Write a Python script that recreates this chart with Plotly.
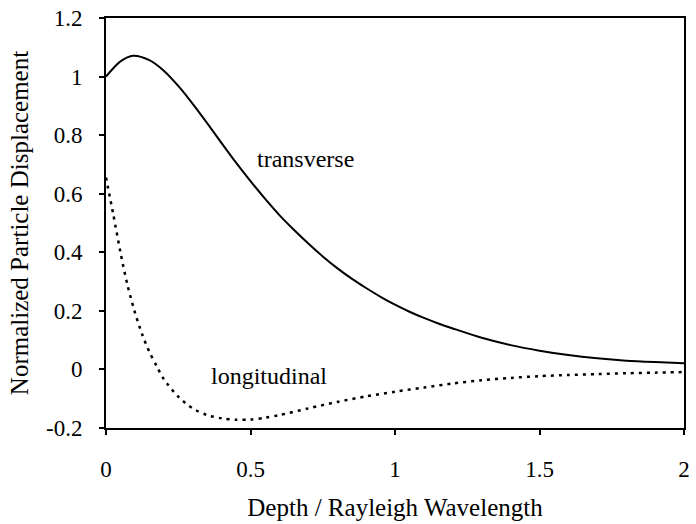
import plotly.graph_objects as go

# Depth / Rayleigh wavelength
x_trans = [0.0, 0.05, 0.094, 0.15, 0.2, 0.25, 0.3, 0.35, 0.4, 0.45, 0.5, 0.55, 0.6, 0.65, 0.7,
           0.75, 0.8, 0.85, 0.9, 0.95, 1.0, 1.05, 1.1, 1.15, 1.2, 1.3, 1.4, 1.5, 1.6, 1.7,
           1.8, 1.9, 2.0]
y_trans = [1.0, 1.052, 1.071, 1.056, 1.02, 0.968, 0.907, 0.841, 0.773, 0.706, 0.643, 0.583, 0.527,
           0.477, 0.430, 0.386, 0.346, 0.310, 0.278, 0.248, 0.221, 0.197, 0.176, 0.157, 0.140,
           0.108, 0.083, 0.064, 0.049, 0.038, 0.030, 0.025, 0.021]

x_long = [0.0, 0.025, 0.05, 0.075, 0.1, 0.125, 0.15, 0.175, 0.2, 0.25, 0.3, 0.35, 0.4, 0.45,
          0.5, 0.55, 0.6, 0.7, 0.8, 0.9, 1.0, 1.1, 1.2, 1.3, 1.4, 1.5, 1.6, 1.7, 1.8, 1.9, 2.0]
y_long = [0.655, 0.53, 0.40, 0.285, 0.195, 0.12, 0.06, 0.012, -0.033, -0.093, -0.133, -0.156,
          -0.167, -0.172, -0.171, -0.165, -0.156, -0.133, -0.111, -0.092, -0.076, -0.062,
          -0.048, -0.037, -0.029, -0.023, -0.019, -0.016, -0.013, -0.011, -0.009]

x_ticks = [0, 0.5, 1, 1.5, 2]
x_tick_text = ["0", "0.5", "1", "1.5", "2"]
y_ticks = [-0.2, 0, 0.2, 0.4, 0.6, 0.8, 1.0, 1.2]
y_tick_text = ["-0.2", "0", "0.2", "0.4", "0.6", "0.8", "1", "1.2"]

labels = [("transverse", 0.69, 0.717), ("longitudinal", 0.565, -0.021)]

FONT = "Liberation Serif, Times New Roman, serif"

fig = go.Figure()
fig.add_trace(go.Scatter(x=x_trans, y=y_trans, mode="lines",
                         line=dict(color="black", width=2, shape="spline", smoothing=0.8),
                         name="transverse", showlegend=False))
fig.add_trace(go.Scatter(x=x_long, y=y_long, mode="lines",
                         line=dict(color="black", width=2.5, dash="3px,5px", shape="spline", smoothing=0.8),
                         name="longitudinal", showlegend=False))

for text, lx, ly in labels:
    fig.add_annotation(x=lx, y=ly, text=text, showarrow=False,
                       font=dict(family=FONT, size=24, color="black"))

axis_common = dict(showgrid=False, zeroline=False, showline=True, linecolor="black", linewidth=2,
                   mirror=True, ticks="outside", ticklen=5, tickwidth=1.5, tickcolor="black",
                   tickfont=dict(family=FONT, size=23, color="black"))

fig.update_xaxes(range=[0, 2], tickvals=x_ticks, ticktext=x_tick_text,
                 title=dict(text="Depth / Rayleigh Wavelength", font=dict(family=FONT, size=25, color="black"),
                            standoff=18),
                 ticklabelstandoff=14, **axis_common)
fig.update_yaxes(range=[-0.2, 1.2], tickvals=y_ticks, ticktext=y_tick_text,
                 title=dict(text="Normalized Particle Displacement", font=dict(family=FONT, size=25, color="black"),
                            standoff=10),
                 ticklabelstandoff=12, **axis_common)

fig.update_layout(width=696, height=524, margin=dict(l=106, r=6, t=16, b=96),
                  plot_bgcolor="white", paper_bgcolor="white", font=dict(family=FONT))

fig.write_html("out.html")
